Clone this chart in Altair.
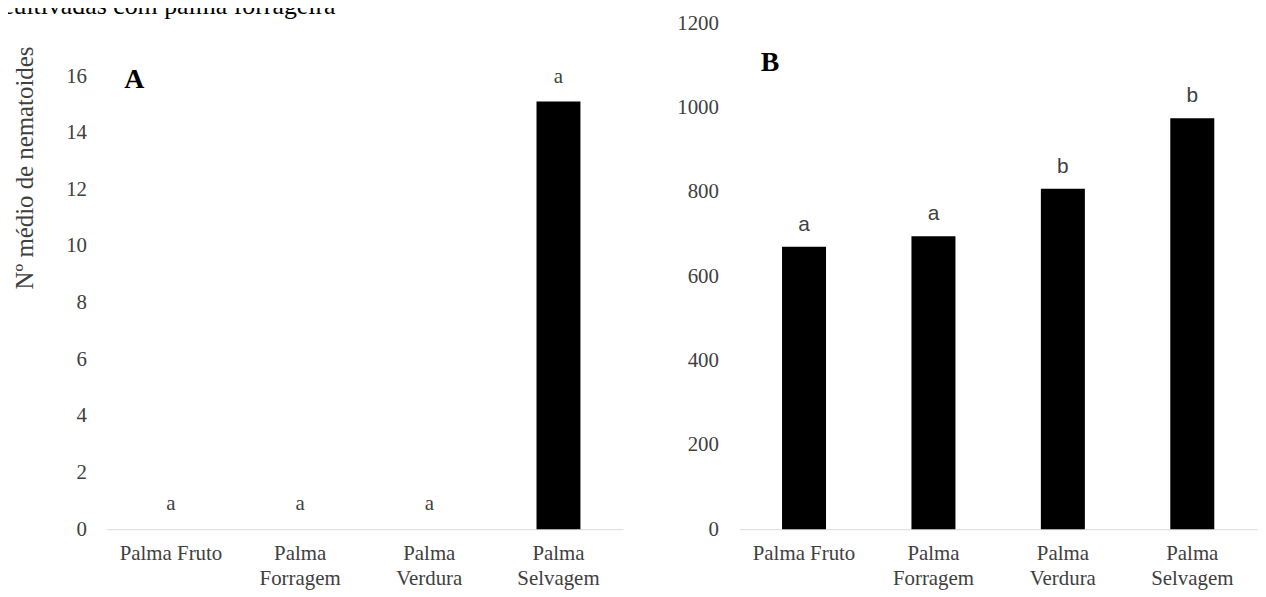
import altair as alt
import pandas as pd

categories = ["Palma Fruto", "Palma Forragem", "Palma Verdura", "Palma Selvagem"]
values_a = [0, 0, 0, 15.1]
values_b = [670, 695, 808, 975]
letters_a = ["a", "a", "a", "a"]
letters_b = ["a", "a", "b", "b"]
ticks_a = [0, 2, 4, 6, 8, 10, 12, 14, 16]
ticks_b = [0, 200, 400, 600, 800, 1000, 1200]
y_title = "Nº médio de nematoides"
caption = "cultivadas com palma forrageira"
panel_a = ["A"]
panel_b = ["B"]

SERIF = "Liberation Serif"
SANS = "Liberation Sans"
TXT = "#404040"

df_a = pd.DataFrame({"cat": categories, "val": values_a, "lab": letters_a})
df_b = pd.DataFrame({"cat": categories, "val": values_b, "lab": letters_b})

W_A, W_B, H = 520, 521, 509
label_expr = "indexof(datum.label, 'Fruto') >= 0 ? datum.label : split(datum.label, ' ')"


def xenc():
    return alt.X(
        "cat:N", sort=categories, title=None,
        scale=alt.Scale(paddingInner=0.66, paddingOuter=0.33),
        axis=alt.Axis(labelAngle=0, labelExpr=label_expr, labelFont=SERIF,
                      labelFontSize=21, labelColor=TXT, labelLineHeight=25,
                      labelPadding=14, ticks=False, domainColor="#d9d9d9",
                      domainWidth=1, grid=False, labelBaseline="top"),
    )


def yaxis(values, **kw):
    return alt.Axis(values=values, format="d", grid=False, domain=False, ticks=False,
                    labelFont=SERIF, labelFontSize=21, labelColor=TXT, **kw)


ya = alt.Y("val:Q", title=y_title,
           scale=alt.Scale(domain=[0, 17.86], nice=False),
           axis=yaxis(ticks_a, labelPadding=20, titleFont=SERIF, titleFontSize=25,
                      titleFontWeight="normal", titleColor=TXT, titleX=-82, titleY=145,
                      titleAngle=270, titleAlign="center", titleBaseline="middle"))
yb = alt.Y("val:Q", title=None,
           scale=alt.Scale(domain=[0, 1200], nice=False),
           axis=yaxis(ticks_b, labelPadding=21))

base_a = alt.Chart(df_a).encode(x=xenc(), y=ya)
bars_a = base_a.mark_bar(color="black")
text_a = base_a.mark_text(font=SERIF, fontSize=21, baseline="alphabetic", dy=-19,
                          color=TXT).encode(text="lab:N")
letter_a = alt.Chart(pd.DataFrame({"t": panel_a})).mark_text(
    font=SERIF, fontSize=28, fontWeight="bold", color="black", baseline="middle",
    align="center").encode(x=alt.value(28), y=alt.value(57), text="t:N")
cap = alt.Chart(pd.DataFrame({"t": [caption]})).mark_text(
    font=SERIF, fontSize=26, color="black", baseline="alphabetic", align="left"
).encode(x=alt.value(-105), y=alt.value(-9), text="t:N")
chart_a = alt.layer(bars_a, text_a, letter_a, cap).properties(width=W_A, height=H)

base_b = alt.Chart(df_b).encode(x=xenc(), y=yb)
bars_b = base_b.mark_bar(color="black")
text_b = base_b.mark_text(font=SANS, fontSize=21, baseline="alphabetic", dy=-16,
                          color=TXT).encode(text="lab:N")
letter_b = alt.Chart(pd.DataFrame({"t": panel_b})).mark_text(
    font=SERIF, fontSize=28, fontWeight="bold", color="black", baseline="middle",
    align="center").encode(x=alt.value(31), y=alt.value(40), text="t:N")
chart_b = alt.layer(bars_b, text_b, letter_b).properties(width=W_B, height=H)

chart = alt.hconcat(chart_a, chart_b, spacing=117, bounds="flush").properties(
    autosize=alt.AutoSizeParams(type="none"),
    padding={"left": 99, "top": 12, "right": 1159, "bottom": 577},
).configure_view(stroke=None)

chart.save("out.html", embed_options={"renderer": "svg", "actions": False})
